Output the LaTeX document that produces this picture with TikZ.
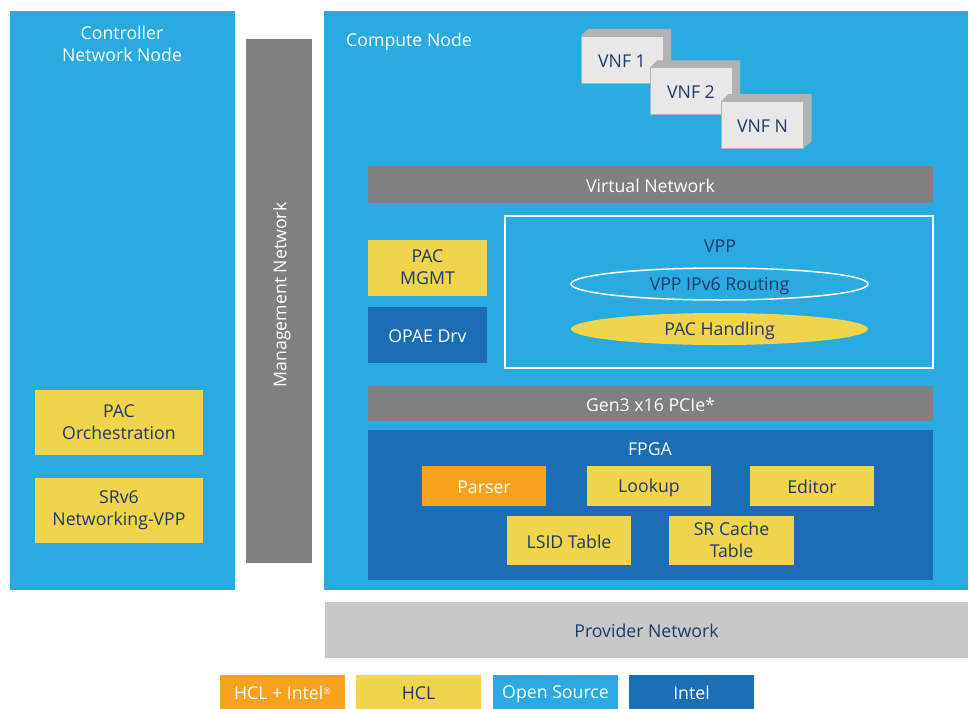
\documentclass[tikz,border=0pt]{standalone}
\usepackage{fontspec}
\setmainfont{Open Sans}
\usetikzlibrary{shapes.geometric}
\definecolor{lb}{HTML}{29ABE2}
\definecolor{db}{HTML}{1B6EB5}
\definecolor{yl}{HTML}{F0D44B}
\definecolor{og}{HTML}{F7A21D}
\definecolor{gr}{HTML}{808080}
\definecolor{pg}{HTML}{C8C8C8}
\definecolor{tx}{HTML}{1E3A68}
\definecolor{vf}{HTML}{E8E8E8}
\definecolor{vs}{HTML}{B3B3B3}
\newcommand\mystrut{\rule[-1.8pt]{0pt}{18.8pt}}
\tikzset{
  every node/.style={font=\fontsize{17.7}{22}\selectfont, align=center, inner sep=0pt,
    execute at begin node=\mystrut, execute at end node=\mystrut},
  blk/.style={rectangle, draw=none, inner sep=0pt},
  lt/.style={text=white},
  dk/.style={text=tx},
  vnf/.style={blk, fill=vf, draw=vs, line width=0.8pt, minimum width=82pt, minimum height=47pt, text=tx},
}
\begin{document}
\begin{tikzpicture}[x=1pt,y=-1pt]
\useasboundingbox (0,0) rectangle (969,709);
\fill[white] (0,0) rectangle (969,709);

% main containers
\node[blk, fill=lb, minimum width=225pt, minimum height=579pt] (ctrl) at (122.5,300.5) {};
\node[lt] (ctrlt) at (122,45) {Controller\\Network Node};
\node[blk, fill=gr, minimum width=66pt, minimum height=524pt] (mgmt) at (279,301) {};
\node[lt, rotate=90] (mgmtt) at (280,295) {Management Network};
\node[blk, fill=lb, minimum width=644pt, minimum height=579pt] (comp) at (646,300.5) {};
\node[lt, anchor=west] (compt) at (346,40) {Compute Node};
\node[blk, fill=pg, minimum width=643pt, minimum height=56pt, dk] (prov) at (646.5,630) {Provider Network};

% controller items
\node[blk, fill=yl, minimum width=168pt, minimum height=65pt, dk] (orch) at (119,422.5) {PAC\\Orchestration};
\node[blk, fill=yl, minimum width=168pt, minimum height=65pt, dk] (srv6) at (119,510.5) {SRv6\\Networking-VPP};

% VNFs
\foreach \n/\cx/\cy/\t in {v1/622/59.5/VNF 1, v2/691/91/VNF 2, vn/762.5/124.5/VNF N}{
  \fill[vs] (\cx+41,\cy-23.5) -- (\cx+49,\cy-30.5) -- (\cx+49,\cy+17) -- (\cx+41,\cy+23.5) -- cycle;
  \fill[vs] (\cx-41,\cy-23.5) -- (\cx-34,\cy-30.5) -- (\cx+49,\cy-30.5) -- (\cx+41,\cy-23.5) -- cycle;
  \node[vnf] (\n) at (\cx,\cy) {\t};
}

% virtual network
\node[blk, fill=gr, minimum width=565pt, minimum height=37pt, lt] (virt) at (650.5,184.5) {Virtual Network};

% PAC MGMT and OPAE
\node[blk, fill=yl, minimum width=119pt, minimum height=56pt, dk] (pmgmt) at (427.5,268) {PAC\\MGMT};
\node[blk, fill=db, minimum width=119pt, minimum height=56pt, lt] (opae) at (427.5,335) {OPAE Drv};

% VPP
\node[blk, draw=white, line width=1.5pt, minimum width=428pt, minimum height=152pt] (vpp) at (719,292) {};
\node[dk] (vppt) at (720,245) {VPP};
\node[ellipse, draw=white, line width=1.5pt, minimum width=297pt, minimum height=32pt, dk] (ipv6) at (719.5,284) {VPP IPv6 Routing};
\node[ellipse, fill=yl, minimum width=297pt, minimum height=32pt, dk] (pach) at (719.5,329) {PAC Handling};

% PCIe
\node[blk, fill=gr, minimum width=565pt, minimum height=35pt, lt] (pcie) at (650.5,403.5) {Gen3 x16 PCIe*};

% FPGA
\node[blk, fill=db, minimum width=565pt, minimum height=150pt] (fpga) at (650.5,505) {};
\node[lt] (fpgat) at (650,448) {FPGA};
\node[blk, fill=og, minimum width=124pt, minimum height=40pt, lt] (parser) at (484,486) {Parser};
\node[blk, fill=yl, minimum width=124pt, minimum height=40pt, dk] (lookup) at (649,486) {Lookup};
\node[blk, fill=yl, minimum width=124pt, minimum height=40pt, dk] (editor) at (812,486) {Editor};
\node[blk, fill=yl, minimum width=124pt, minimum height=49pt, dk] (lsid) at (569,540.5) {LSID Table};
\node[blk, fill=yl, minimum width=125pt, minimum height=49pt, dk] (srcache) at (731.5,540.5) {SR Cache\\Table};

% legend
\node[blk, fill=og, minimum width=125pt, minimum height=34pt, lt] (lg1) at (282.5,692) {HCL + Intel\raisebox{5pt}{\fontsize{9}{9}\selectfont ®}};
\node[blk, fill=yl, minimum width=125pt, minimum height=34pt, dk] (lg2) at (418.5,692) {HCL};
\node[blk, fill=lb, minimum width=125pt, minimum height=34pt, lt] (lg3) at (555.5,692) {Open Source};
\node[blk, fill=db, minimum width=125pt, minimum height=34pt, lt] (lg4) at (691.5,692) {Intel};
\end{tikzpicture}
\end{document}
